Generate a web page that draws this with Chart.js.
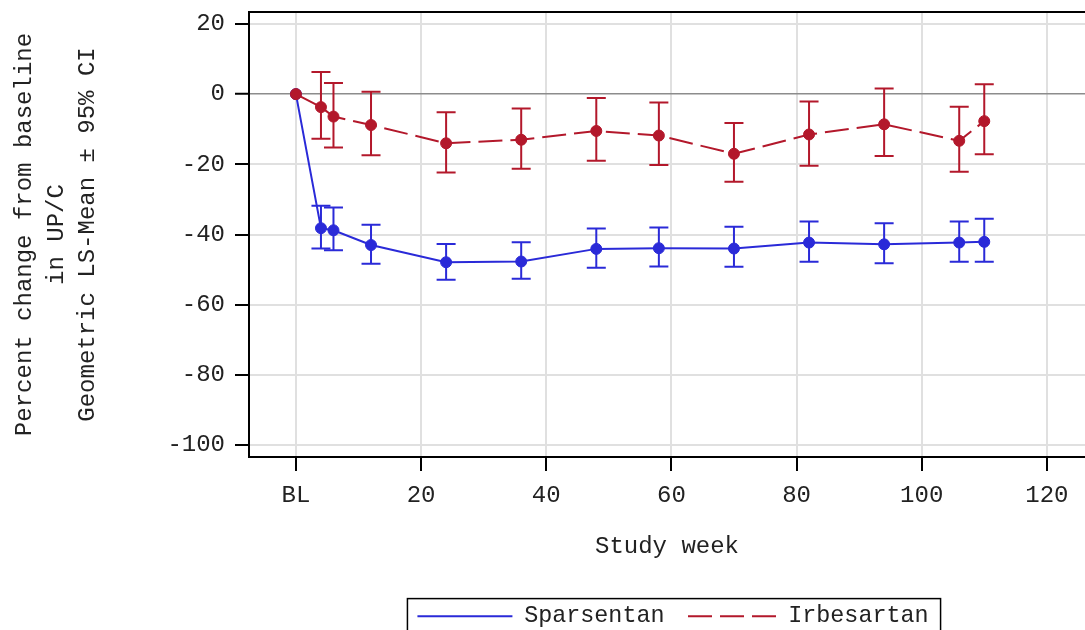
<!DOCTYPE html>
<html>
<head>
<meta charset="utf-8">
<script src="https://cdn.jsdelivr.net/npm/chart.js@4.4.1/dist/chart.umd.min.js"></script>
<style>
  html, body { margin: 0; padding: 0; background: #fff; overflow: hidden; }
  #wrap { width: 1085px; height: 630px; overflow: hidden; }
</style>
</head>
<body>
<div id="wrap"><canvas id="chart" width="1085" height="638"></canvas></div>
<script>
// study weeks (0 = baseline)
const weeks = [0, 4, 6, 12, 24, 36, 48, 58, 70, 82, 94, 106, 110];

const sparsentanMean  = [0, -38.2, -38.8, -43.0, -47.9, -47.7, -44.1, -43.9, -44.0, -42.3, -42.8, -42.3, -42.1];
const sparsentanLower = [null, -44.0, -44.5, -48.3, -52.9, -52.6, -49.5, -49.1, -49.2, -47.8, -48.2, -47.8, -47.8];
const sparsentanUpper = [null, -31.8, -32.3, -37.2, -42.7, -42.2, -38.3, -38.0, -37.8, -36.3, -36.8, -36.3, -35.5];

const irbesartanMean  = [0, -3.7, -6.4, -8.8, -14.0, -13.0, -10.5, -11.8, -17.0, -11.5, -8.6, -13.3, -7.7];
const irbesartanLower = [null, -12.7, -15.2, -17.4, -22.3, -21.3, -19.0, -20.2, -25.0, -20.4, -17.6, -22.1, -17.1];
const irbesartanUpper = [null, 6.3, 3.2, 0.7, -5.2, -4.1, -1.1, -2.4, -8.2, -2.1, 1.6, -3.6, 2.8];

const xTicks = [0, 20, 40, 60, 80, 100, 120];
const yTicks = [-100, -80, -60, -40, -20, 0, 20];

const BLUE = '#2a2ad8';
const RED = '#b3182b';
const TEXT = '#222';
const DASH = [24, 8];

Chart.defaults.font.family = "'Liberation Mono', 'Courier New', monospace";
Chart.defaults.font.size = 24;
Chart.defaults.color = TEXT;

// CI whiskers, drawn just before each dataset so points sit on top
const errorBars = {
    id: 'errorBars',
    beforeDatasetDraw(chart, args) {
        const ds = chart.data.datasets[args.index];
        if (!ds.lower) return;
        const xs = chart.scales.x, ys = chart.scales.y;
        const ctx = chart.ctx;
        ctx.save();
        ctx.strokeStyle = ds.borderColor;
        ctx.lineWidth = 2;
        ds.data.forEach((p, i) => {
            if (ds.lower[i] == null) return;
            const px = xs.getPixelForValue(p.x);
            const lo = ys.getPixelForValue(ds.lower[i]);
            const hi = ys.getPixelForValue(ds.upper[i]);
            ctx.beginPath();
            ctx.moveTo(px, lo); ctx.lineTo(px, hi);
            ctx.moveTo(px - 9.5, lo); ctx.lineTo(px + 9.5, lo);
            ctx.moveTo(px - 9.5, hi); ctx.lineTo(px + 9.5, hi);
            ctx.stroke();
        });
        ctx.restore();
    }
};

// top frame line, legend nudge and the box round the legend
const frame = {
    id: 'frame',
    afterLayout(chart) {
        chart.legend.left += 6;
        chart.legend.right += 6;
    },
    afterDraw(chart) {
        const {ctx, chartArea} = chart;
        ctx.save();
        ctx.strokeStyle = '#000';
        ctx.lineWidth = 2;
        ctx.beginPath();
        ctx.moveTo(chartArea.left - 1, chartArea.top);
        ctx.lineTo(chartArea.right, chartArea.top);
        ctx.stroke();

        const boxes = chart.legend.legendHitBoxes;
        if (boxes && boxes.length) {
            const first = boxes[0], last = boxes[boxes.length - 1];
            const l = first.left - 10, r = last.left + last.width + 12;
            const t = first.top - 6, b = first.top + first.height + 6;
            ctx.lineWidth = 1.5;
            ctx.strokeRect(l, t, r - l, b - t);
        }
        ctx.restore();
    }
};

new Chart(document.getElementById('chart'), {
    type: 'line',
    data: {
        datasets: [
            {
                label: 'Sparsentan',
                data: weeks.map((w, i) => ({x: w, y: sparsentanMean[i]})),
                lower: sparsentanLower,
                upper: sparsentanUpper,
                borderColor: BLUE,
                backgroundColor: BLUE,
                borderWidth: 2,
                pointRadius: 5.5,
                pointBorderWidth: 1,
                pointBackgroundColor: BLUE,
                pointBorderColor: BLUE,
                order: 2
            },
            {
                label: 'Irbesartan',
                data: weeks.map((w, i) => ({x: w, y: irbesartanMean[i]})),
                lower: irbesartanLower,
                upper: irbesartanUpper,
                borderColor: RED,
                backgroundColor: RED,
                borderWidth: 2,
                borderDash: DASH,
                pointRadius: 5.5,
                pointBorderWidth: 1,
                pointBackgroundColor: RED,
                pointBorderColor: RED,
                order: 1
            }
        ]
    },
    options: {
        responsive: false,
        animation: false,
        devicePixelRatio: 1,
        layout: { autoPadding: false, padding: { top: 12, left: 0, right: 0, bottom: 0 } },
        plugins: {
            legend: {
                position: 'bottom',
                fullSize: false,
                labels: {
                    usePointStyle: true,
                    pointStyle: 'line',
                    pointStyleWidth: 95,
                    padding: 17,
                    color: TEXT,
                    font: { size: 23.4 },
                    sort: (a, b) => a.datasetIndex - b.datasetIndex,
                    generateLabels: chart => Chart.defaults.plugins.legend.labels.generateLabels(chart).map(item => {
                        const ds = chart.data.datasets[item.datasetIndex];
                        return Object.assign(item, {
                            lineWidth: 2,
                            lineDash: ds.borderDash || [],
                            lineDashOffset: ds.borderDash ? 25.5 : 0,
                            strokeStyle: ds.borderColor,
                            pointStyle: 'line'
                        });
                    })
                }
            },
            tooltip: { enabled: false }
        },
        scales: {
            x: {
                type: 'linear',
                min: -7.5,
                max: 126.1,
                afterBuildTicks: s => { s.ticks = xTicks.map(v => ({value: v})); },
                afterFit: s => {
                    s.height = 130.6;
                    s.paddingLeft = 0;
                    s.paddingRight = 0;
                },
                ticks: {
                    padding: 10,
                    font: { size: 24, lineHeight: 1.2 },
                    callback: v => v === 0 ? 'BL' : String(v)
                },
                grid: { color: '#e0e0e0', lineWidth: 2, tickLength: 14, tickColor: '#000', tickWidth: 2 },
                border: { color: '#000', width: 2 },
                title: {
                    display: true,
                    text: 'Study week',
                    font: { size: 24, lineHeight: 1.2 },
                    padding: { top: 0, bottom: 27 }
                }
            },
            y: {
                min: -103.4,
                max: 23.4,
                afterBuildTicks: s => { s.ticks = yTicks.map(v => ({value: v})); },
                afterFit: s => {
                    s.width = 249;
                    s.paddingTop = 0;
                    s.paddingBottom = 0;
                },
                ticks: {
                    padding: 10,
                    font: { size: 24, lineHeight: 1.0 }
                },
                grid: {
                    color: c => c.tick && c.tick.value === 0 ? '#8c8c8c' : '#e0e0e0',
                    lineWidth: c => c.tick && c.tick.value === 0 ? 1.5 : 2,
                    tickLength: 14,
                    tickColor: '#000',
                    tickWidth: 2
                },
                border: { color: '#000', width: 2 },
                title: {
                    display: true,
                    text: ['Percent change from baseline', 'in UP/C', 'Geometric LS-Mean \u00b1 95% CI'],
                    font: { size: 24, lineHeight: 1.31 },
                    padding: { top: 9, bottom: 0 }
                }
            }
        }
    },
    plugins: [errorBars, frame]
});
</script>
</body>
</html>
